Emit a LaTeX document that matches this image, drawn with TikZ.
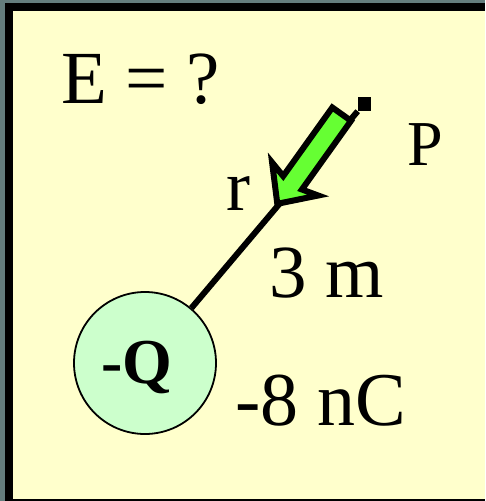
\documentclass[tikz,border=0pt]{standalone}
\usepackage{fontspec}
\setmainfont{Liberation Serif}
\definecolor{slate}{RGB}{100,125,125}
\definecolor{paper}{RGB}{255,255,204}
\definecolor{qfill}{RGB}{204,255,204}
\definecolor{arrowgreen}{RGB}{102,255,51}
\newcommand{\setfs}[1]{\fontsize{#1}{#1}\selectfont}
\tikzset{
  lbl/.style={inner sep=0pt, outer sep=0pt, anchor=base west},
  charge/.style={circle, draw=black, line width=1.8pt, fill=qfill, minimum size=142pt, inner sep=0pt},
  rline/.style={line width=6pt},
  fieldarrow/.style={draw=black, fill=arrowgreen, line width=6pt, line join=miter},
  ptmark/.style={fill=black, minimum width=13pt, minimum height=14pt, inner sep=0pt, outer sep=0pt},
}
\begin{document}
\begin{tikzpicture}[x=1pt, y=-1pt]
  \useasboundingbox (0,0) rectangle (485,501);
  % frame
  \fill[slate] (0,0) rectangle (485,501);
  \fill[black] (5,3) rectangle (485,501);
  \fill[paper] (13,11) rectangle (485,499);
  % charge
  \node[charge] (Q) at (145,363) {};
  \node[lbl] (Qlbl) at (101,383) {\setfs{64}\bfseries -Q};
  % point P
  \node[ptmark] (Pt) at (364.2,104.2) {};
  \draw[rline] (Q) -- (Pt.south west);
  % field arrow
  \coordinate (a1) at (332.3,107.5);
  \coordinate (a2) at (283.2,176.1);
  \coordinate (a3) at (272.1,162.5);
  \coordinate (a4) at (277.3,203.8);
  \coordinate (a5) at (318.2,195.5);
  \coordinate (a6) at (301.9,189.5);
  \coordinate (a7) at (351.0,120.8);
  \draw[fieldarrow] (a1) -- (a2) -- (a3) -- (a4) -- (a5) -- (a6) -- (a7) -- cycle;
  % labels
  \node[lbl] (E) at (61,103) {\setfs{75}E = ?};
  \node[lbl] (P) at (407,165) {\setfs{64}P};
  \node[lbl] (r) at (226,210) {\setfs{72}r};
  \node[lbl] (dist) at (269,297) {\setfs{75}3 m};
  \node[lbl] (qval) at (235,425) {\setfs{76}-8 nC};
\end{tikzpicture}
\end{document}
